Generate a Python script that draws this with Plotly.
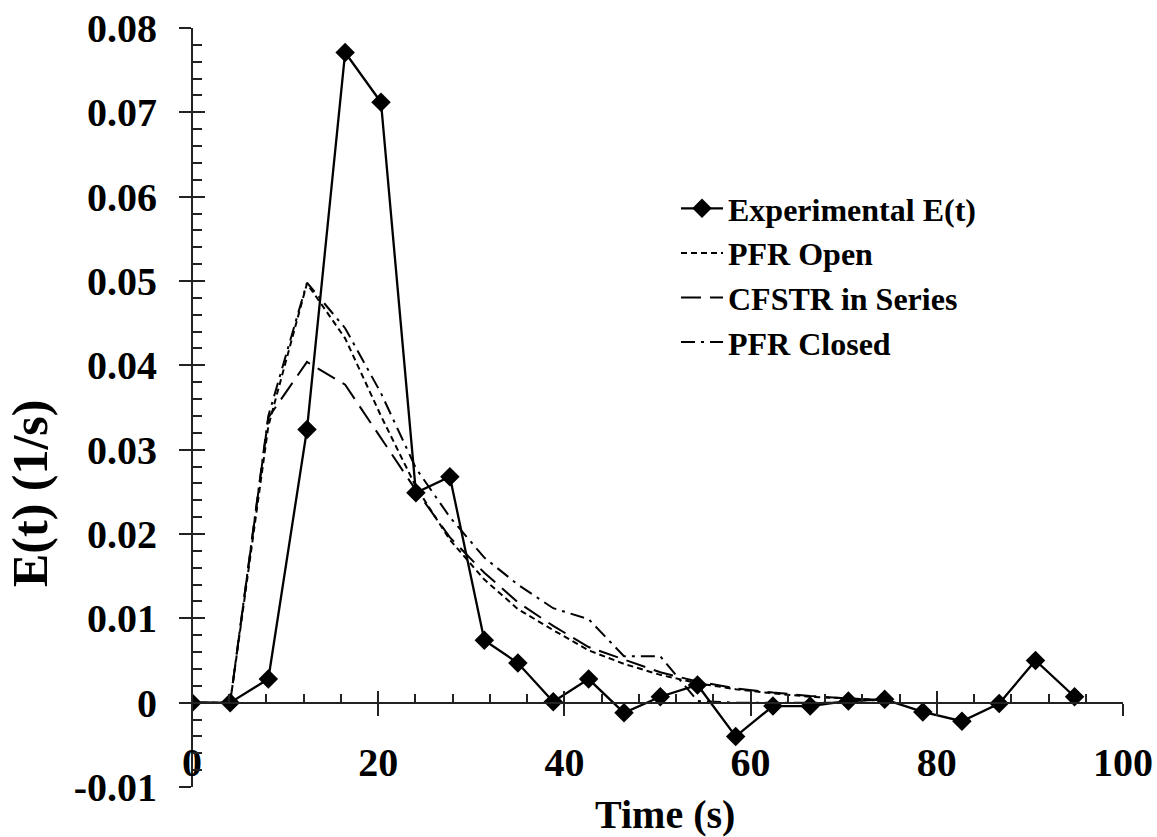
import plotly.graph_objects as go

# Sampling times (s) and measured residence-time distribution
time_s = [0, 4.1, 8.2, 12.35, 16.45, 20.3, 24.05, 27.7, 31.4, 35.0, 38.8, 42.6,
          46.4, 50.3, 54.3, 58.4, 62.4, 66.4, 70.5, 74.4, 78.5, 82.7, 86.7, 90.6, 94.8]
exp_e = [0, 0, 0.0028, 0.0324, 0.0771, 0.0712, 0.0249, 0.0268, 0.0074, 0.0047,
         0.0001, 0.0028, -0.0012, 0.0007, 0.0021, -0.0040, -0.0004, -0.0004,
         0.0002, 0.0004, -0.0011, -0.0022, -0.0001, 0.0050, 0.0007]

# Model predictions evaluated at the first 20 sampling times
model_time = time_s[:20]
pfr_open = [0, 0, 0.0328, 0.0497, 0.0432, 0.0340, 0.0256, 0.0193, 0.0146, 0.0111,
            0.0086, 0.0062, 0.0046, 0.0033, 0.0023, 0.0016, 0.0011, 0.0007, 0.0005, 0.0003]
cfstr_series = [0, 0, 0.0338, 0.0404, 0.0377, 0.0313, 0.0252, 0.0196, 0.0154, 0.0119,
                0.0091, 0.0066, 0.0051, 0.0036, 0.0025, 0.0017, 0.0012, 0.0008, 0.0005, 0.0003]
pfr_closed = [0, 0, 0.0340, 0.0498, 0.0444, 0.0367, 0.0278, 0.0220, 0.0172, 0.0140,
              0.0112, 0.0099, 0.0055, 0.0055, 0.0002, 0, 0, 0, 0, 0]

x_ticks = [0, 20, 40, 60, 80, 100]
y_ticks = [-0.01, 0, 0.01, 0.02, 0.03, 0.04, 0.05, 0.06, 0.07, 0.08]
y_tick_labels = ["-0.01", "0", "0.01", "0.02", "0.03", "0.04", "0.05", "0.06", "0.07", "0.08"]

W, H = 1157, 837
left_px, right_px, top_px, bottom_px = 192, 1123, 28, 787
x_dom = [left_px / W, right_px / W]
y_dom = [1 - bottom_px / H, 1 - top_px / H]
x_range = [0, 100]
y_range = [-0.01, 0.08]
# paper position of E(t) = 0, where the time axis crosses
zero_pos = y_dom[0] + (0 - y_range[0]) / (y_range[1] - y_range[0]) * (y_dom[1] - y_dom[0])

FONT = "Liberation Serif, Times New Roman, serif"
AX = "#222222"

fig = go.Figure()
fig.add_trace(go.Scatter(
    x=time_s, y=exp_e, name="Experimental E(t)", mode="lines+markers",
    line=dict(color="black", width=2.3),
    marker=dict(symbol="diamond", size=15, color="black")))
fig.add_trace(go.Scatter(
    x=model_time, y=pfr_open, name="PFR Open", mode="lines",
    line=dict(color="black", width=2, dash="6px,4px")))
fig.add_trace(go.Scatter(
    x=model_time, y=cfstr_series, name="CFSTR in Series", mode="lines",
    line=dict(color="black", width=2, dash="20px,9px")))
fig.add_trace(go.Scatter(
    x=model_time, y=pfr_closed, name="PFR Closed", mode="lines",
    line=dict(color="black", width=2, dash="14px,6px,3px,6px")))
# companion axes carrying the inner half of the crossing ticks and minor ticks
fig.add_trace(go.Scatter(x=[], y=[], xaxis="x2", yaxis="y2", showlegend=False,
                         hoverinfo="skip"))

tickfont = dict(family=FONT, size=40, color="black", weight="bold")

fig.update_layout(
    width=W, height=H,
    margin=dict(l=0, r=0, t=0, b=0, autoexpand=False),
    paper_bgcolor="white", plot_bgcolor="white",
    showlegend=True,
    legend=dict(x=676 / W, y=1 - 181 / H, xanchor="left", yanchor="top",
                bgcolor="rgba(0,0,0,0)", borderwidth=0, itemwidth=42,
                font=dict(family=FONT, size=32, color="black", weight="bold"),
                tracegroupgap=0),
    xaxis=dict(domain=x_dom, range=x_range, anchor="free", position=zero_pos,
               automargin=False,
               showline=True, linecolor=AX, linewidth=2, showgrid=False, zeroline=False,
               tickmode="array", tickvals=x_ticks, ticks="outside", ticklen=12,
               tickwidth=2, tickcolor=AX, tickfont=tickfont, ticklabelstandoff=12),
    yaxis=dict(domain=y_dom, range=y_range, anchor="free", position=x_dom[0],
               automargin=False,
               showline=True, linecolor=AX, linewidth=2, showgrid=False, zeroline=False,
               tickmode="array", tickvals=y_ticks, ticktext=y_tick_labels,
               ticks="outside", ticklen=12, tickwidth=2, tickcolor=AX,
               tickfont=tickfont, ticklabelstandoff=14),
    xaxis2=dict(domain=x_dom, range=x_range, anchor="free", position=zero_pos,
                overlaying="x", automargin=False,
                showline=False, showgrid=False, zeroline=False,
                showticklabels=False, tickmode="linear", tick0=0, dtick=20,
                ticks="inside", ticklen=12, tickwidth=2, tickcolor=AX,
                minor=dict(ticks="inside", ticklen=9, tickwidth=1.5, tickcolor=AX,
                           tick0=0, dtick=4, showgrid=False)),
    yaxis2=dict(domain=y_dom, range=y_range, anchor="free", position=x_dom[0],
                overlaying="y", automargin=False,
                showline=False, showgrid=False, zeroline=False,
                showticklabels=False, tickmode="linear", tick0=0, dtick=0.01,
                ticks="inside", ticklen=12, tickwidth=2, tickcolor=AX,
                minor=dict(ticks="inside", ticklen=9, tickwidth=1.5, tickcolor=AX,
                           tick0=0, dtick=0.002, showgrid=False)),
    annotations=[
        dict(text="Time (s)", x=(x_dom[0] + x_dom[1]) / 2 + 8 / W, y=1 - 814 / H,
             xref="paper", yref="paper", showarrow=False, xanchor="center",
             yanchor="middle",
             font=dict(family=FONT, size=40, color="black", weight="bold")),
        dict(text="E(t) (1/s)", x=30 / W, y=1 - 494 / H, xref="paper", yref="paper",
             showarrow=False, textangle=-90, xanchor="center", yanchor="middle",
             font=dict(family=FONT, size=50, color="black", weight="bold")),
    ],
)

fig.write_html("out.html")
